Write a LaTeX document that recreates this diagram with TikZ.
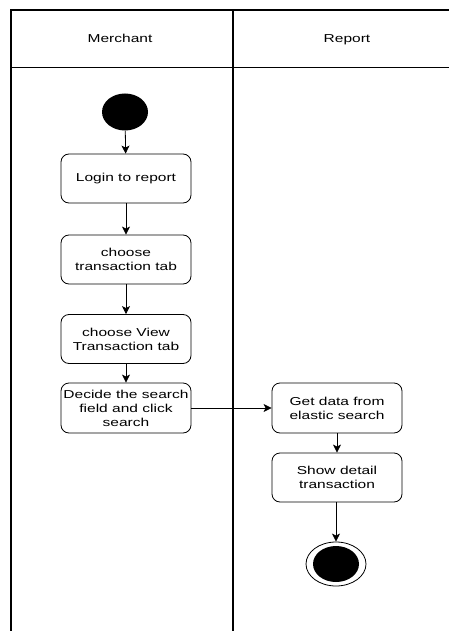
\documentclass[tikz,border=0pt]{standalone}
\usepackage{fontspec}
\setmainfont[FakeStretch=1.35]{Liberation Sans}
\usetikzlibrary{arrows.meta,shapes.geometric}
\begin{document}
\begin{tikzpicture}[x=1pt,y=-1pt,
  lane/.style={line width=1.3pt},
  act/.style={draw, line width=0.8pt, rounded corners=8pt, minimum width=130pt,
    minimum height=49pt, inner sep=0pt, align=center,
    font=\fontsize{11.5}{14}\selectfont},
  hdr/.style={anchor=base, font=\fontsize{11.5}{14}\selectfont},
  flow/.style={line width=0.8pt, -{Stealth[length=8pt,width=8pt,inset=2pt]}}]
\useasboundingbox (0,0) rectangle (449,631);
\fill[white] (0,0) rectangle (449,631);
% swimlane frame
\draw[lane] (449,10) -- (11,10) -- (11,631);
\draw[lane] (233,10) -- (233,631);
\draw[line width=1pt] (11,68) -- (449,68);
\node[hdr] (hm) at (120,42.5) {Merchant};
\node[hdr] (hr) at (347,42.5) {Report};
% activities
\node[ellipse, fill=black, minimum width=46pt, minimum height=37pt, inner sep=0pt] (start) at (125,112) {};
\node[act] (login) at (126,178.5) {Login to report};
\node[act] (tab) at (126,259.5) {choose\\transaction tab};
\node[act] (view) at (126,339) {choose View\\Transaction tab};
\node[act, minimum height=50pt] (decide) at (126,408) {Decide the search\\field and click\\search};
\node[act, minimum height=50pt] (getdata) at (337,408) {Get data from\\elastic search};
\node[act] (show) at (337,477.5) {Show detail\\transaction};
\node[ellipse, draw, line width=0.8pt, fill=white, minimum width=60pt, minimum height=44pt, inner sep=0pt] (endout) at (336,564) {};
\node[ellipse, fill=black, minimum width=46pt, minimum height=36pt, inner sep=0pt] (endin) at (336,564) {};
% control flow
\draw[flow] (start) -- (login);
\draw[flow] (login) -- (tab);
\draw[flow] (tab) -- (view);
\draw[flow] (view) -- (decide);
\draw[flow] (decide) -- (getdata);
\draw[flow] (getdata) -- (show);
\draw[flow] (show.south -| endout.north) -- (endout.north);
\end{tikzpicture}
\end{document}
